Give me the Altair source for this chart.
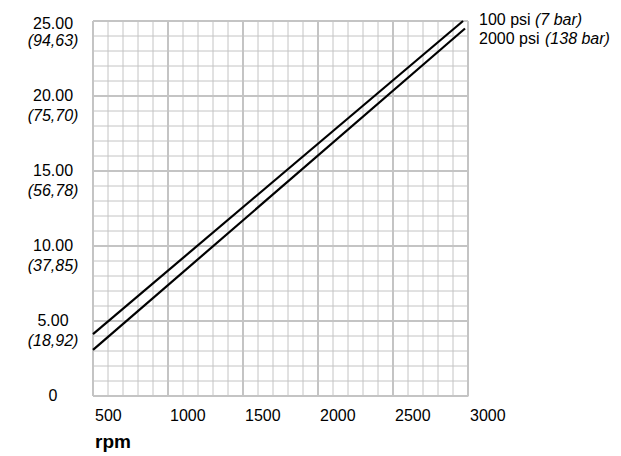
import altair as alt
import pandas as pd

# Data
series_names = ["100 psi", "2000 psi"]
series_notes = ["(7 bar)", "(138 bar)"]
upper_rpm = [500, 2967]
upper_gpm = [4.13, 25.0]
lower_rpm = [500, 2980]
lower_gpm = [3.07, 24.5]

x_minor = list(range(500, 3001, 100))
x_major = [500, 1000, 1500, 2000, 2500, 3000]
x_labels = ["500", "1000", "1500", "2000", "2500", "3000"]
y_minor = list(range(0, 26))
y_major = [0, 5, 10, 15, 20, 25]
y_main = ["0", "5.00", "10.00", "15.00", "20.00", "25.00"]
y_sub = ["", "(18,92)", "(37,85)", "(56,78)", "(75,70)", "(94,63)"]
x_title = ["rpm"]

FONT = "Liberation Sans"
GRID = "#c4c4c4"

lines_df = pd.DataFrame({
    "rpm": upper_rpm + lower_rpm,
    "gpm": upper_gpm + lower_gpm,
    "series": [series_names[0]] * 2 + [series_names[1]] * 2,
})

xs = alt.Scale(domain=[500, 3000], nice=False, zero=False)
ys = alt.Scale(domain=[0, 25], nice=False, zero=False)

vmin = alt.Chart(pd.DataFrame({"v": x_minor})).mark_rule(
    color=GRID, strokeWidth=1
).encode(x=alt.X("v:Q", scale=xs, axis=None))
hmin = alt.Chart(pd.DataFrame({"v": y_minor})).mark_rule(
    color=GRID, strokeWidth=1
).encode(y=alt.Y("v:Q", scale=ys, axis=None))
vmaj = alt.Chart(pd.DataFrame({"v": x_major})).mark_rule(
    color=GRID, strokeWidth=2
).encode(x=alt.X("v:Q", scale=xs, axis=None))
hmaj = alt.Chart(pd.DataFrame({"v": y_major})).mark_rule(
    color=GRID, strokeWidth=2
).encode(y=alt.Y("v:Q", scale=ys, axis=None))

lines = alt.Chart(lines_df).mark_line(color="black", strokeWidth=2.2).encode(
    x=alt.X("rpm:Q", scale=xs, axis=None),
    y=alt.Y("gpm:Q", scale=ys, axis=None),
    detail="series:N",
)

xlab = alt.Chart(pd.DataFrame({"v": x_major, "t": x_labels})).mark_text(
    font=FONT, fontSize=16, color="black", align="left", baseline="middle",
    dx=2
).encode(
    x=alt.X("v:Q", scale=xs, axis=None),
    y=alt.value(395),
    text="t:N",
)
xtitle = alt.Chart(pd.DataFrame({"t": x_title})).mark_text(
    font=FONT, fontSize=19, fontWeight="bold", color="black", align="left",
    baseline="alphabetic"
).encode(x=alt.value(2), y=alt.value(427), text="t:N")

ylab_df = pd.DataFrame({"v": y_major, "main": y_main, "sub": y_sub})
ymain_base = alt.Chart(ylab_df).mark_text(
    font=FONT, fontSize=16, color="black", align="center", baseline="middle"
)
ymain = ymain_base.transform_filter("datum.v < 25").encode(
    x=alt.value(-40),
    y=alt.Y("v:Q", scale=ys, axis=None),
    text="main:N",
)
ymain_top = ymain_base.transform_filter("datum.v == 25").encode(
    x=alt.value(-40),
    y=alt.Y("v:Q", scale=ys, axis=None),
    yOffset=alt.value(3),
    text="main:N",
)
ysub = alt.Chart(ylab_df).mark_text(
    font=FONT, fontSize=16, fontStyle="italic", color="black",
    align="center", baseline="middle"
).encode(
    x=alt.value(-40),
    y=alt.Y("v:Q", scale=ys, axis=None),
    yOffset=alt.value(20),
    text="sub:N",
)

legend_layers = []
legend_y = [-1, 18]
note_x = [442, 452]
for i in range(2):
    d = pd.DataFrame({"name": [series_names[i]], "note": [series_notes[i]]})
    legend_layers.append(
        alt.Chart(d).mark_text(font=FONT, fontSize=16, color="black",
                               align="left", baseline="middle").encode(
            x=alt.value(386), y=alt.value(legend_y[i]), text="name:N")
    )
    legend_layers.append(
        alt.Chart(d).mark_text(font=FONT, fontSize=16, fontStyle="italic",
                               color="black", align="left",
                               baseline="middle").encode(
            x=alt.value(note_x[i]), y=alt.value(legend_y[i]), text="note:N")
    )

chart = alt.layer(vmin, hmin, vmaj, hmaj, lines, xlab, xtitle, ymain,
                  ymain_top, ysub, *legend_layers).properties(
    width=375, height=375, autosize="none",
    padding={"left": 85, "top": 13, "right": 145, "bottom": 58},
).configure_view(stroke=None).configure(background="white")

chart.save("out.html", embed_options={"renderer": "svg", "actions": False})
